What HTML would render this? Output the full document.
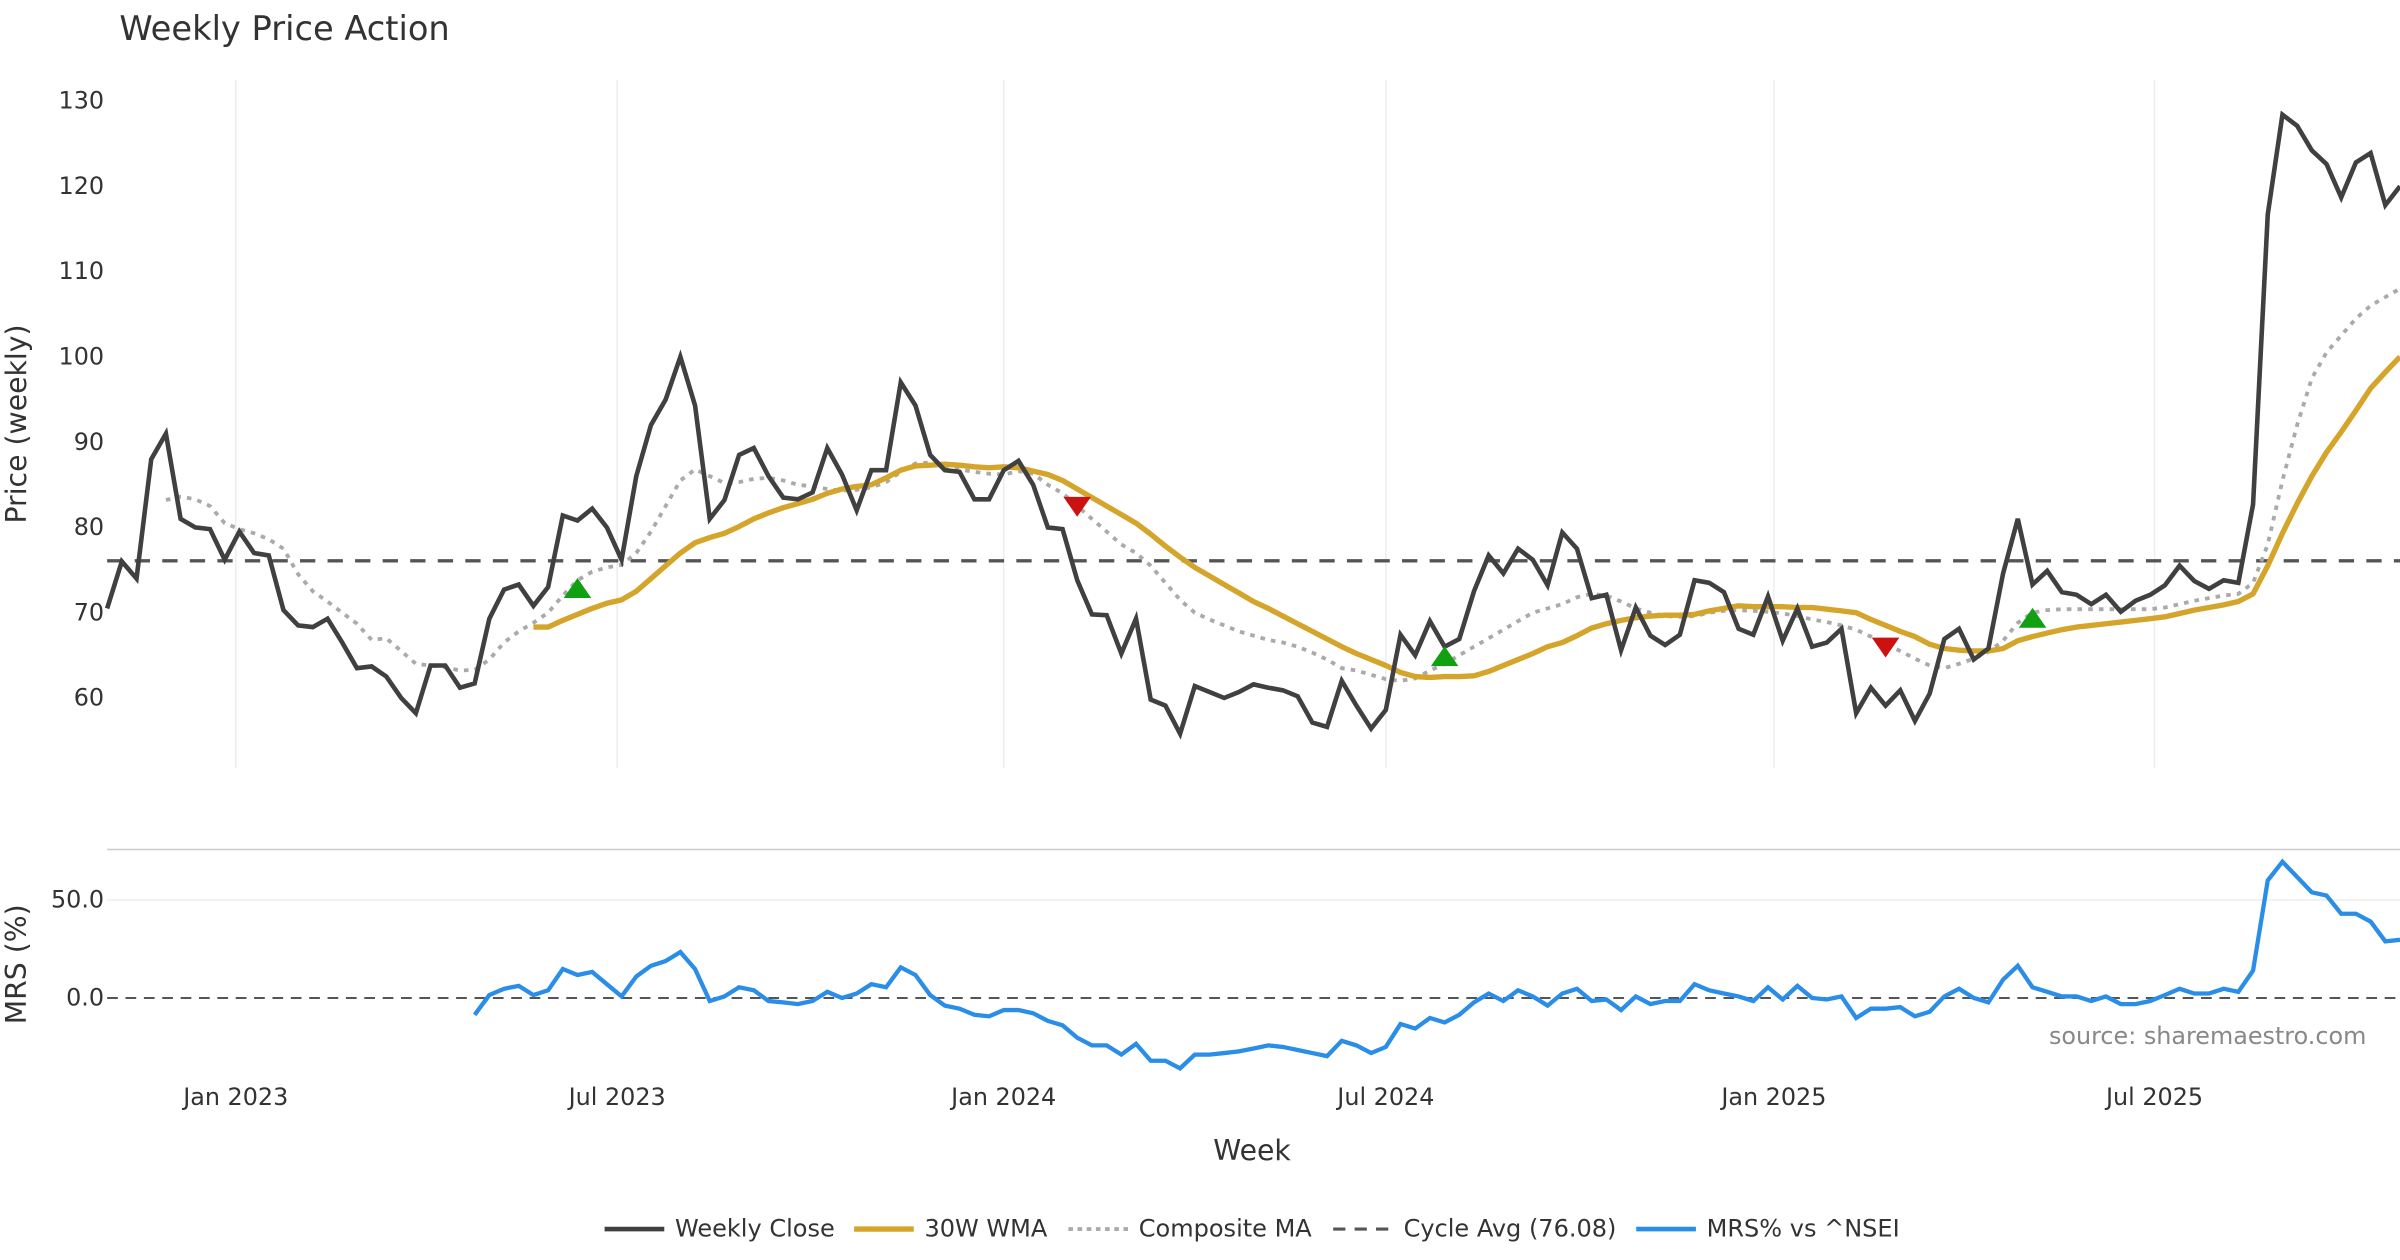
<!DOCTYPE html>
<html><head><meta charset="utf-8"><style>
html,body{margin:0;padding:0;background:#fff;}
svg{display:block;font-family:"DejaVu Sans","Liberation Sans",sans-serif;}
</style></head><body>
<svg id="chart" width="2400" height="1260" viewBox="0 0 1568 823.2" xmlns="http://www.w3.org/2000/svg">
<text x="78" y="26" font-size="22" fill="#333">Weekly Price Action</text>
<g id="grid"></g><g id="marks"></g><g id="axes"></g>
<text transform="translate(17,277) rotate(-90)" text-anchor="middle" font-size="18.5" fill="#333">Price (weekly)</text>
<text transform="translate(17,630) rotate(-90)" text-anchor="middle" font-size="18.5" fill="#333">MRS (%)</text>
<text x="818" y="758" text-anchor="middle" font-size="18.5" fill="#333">Week</text>
<text x="1546" y="682" text-anchor="end" font-size="15.6" fill="#888">source: sharemaestro.com</text>
<g font-size="15.7" fill="#333">
<line x1="395" y1="803" x2="434" y2="803" stroke="#404040" stroke-width="3"/><text x="441" y="808">Weekly Close</text>
<line x1="558" y1="803" x2="597" y2="803" stroke="#d4a52a" stroke-width="3.5"/><text x="604" y="808">30W WMA</text>
<line x1="698" y1="803" x2="737" y2="803" stroke="#aaa" stroke-width="2.5" stroke-dasharray="3,3"/><text x="744" y="808">Composite MA</text>
<line x1="871" y1="803" x2="910" y2="803" stroke="#555" stroke-width="2" stroke-dasharray="8,6"/><text x="917" y="808">Cycle Avg (76.08)</text>
<line x1="1069" y1="803" x2="1108" y2="803" stroke="#2a8de8" stroke-width="3"/><text x="1115" y="808">MRS% vs ^NSEI</text>
</g>
</svg>
<script>
const closeVals=[70.5,76,74,88,91,81,80,79.8,76.2,79.5,77,76.7,70.3,68.5,68.3,69.3,66.5,63.5,63.7,62.5,60,58.2,63.8,63.8,61.2,61.7,69.3,72.7,73.3,70.8,73,81.4,80.8,82.2,80,76.2,86,92,95,100,94.3,81,83.2,88.5,89.3,86,83.5,83.3,84.1,89.3,86.2,82,86.7,86.7,97,94.3,88.5,86.7,86.5,83.3,83.3,86.7,87.8,85,80,79.8,73.8,69.8,69.7,65.2,69.3,59.8,59.1,55.8,61.4,60.7,60,60.7,61.6,61.2,60.9,60.2,57.1,56.6,62,59.1,56.4,58.6,67.4,65,69,66,66.9,72.5,76.7,74.6,77.5,76.2,73.2,79.4,77.5,71.7,72.1,65.6,70.6,67.3,66.2,67.4,73.8,73.5,72.4,68.1,67.4,71.9,66.7,70.5,66,66.5,68.1,58.2,61.2,59.1,60.9,57.3,60.5,66.9,68.1,64.5,65.8,74.6,81,73.3,74.9,72.4,72.1,71,72.1,70.1,71.4,72.1,73.2,75.5,73.7,72.8,73.8,73.5,82.7,116.7,128.4,127.1,124.2,122.6,118.7,122.8,123.9,117.8,120];
const wmaStart=29;
const wmaVals=[68.3,68.3,69.1,69.8,70.5,71.1,71.5,72.5,74,75.5,77,78.2,78.8,79.3,80.1,81,81.7,82.3,82.8,83.3,84,84.5,84.8,85,85.8,86.7,87.2,87.3,87.4,87.3,87.1,87,87.1,87,86.6,86.2,85.5,84.5,83.5,82.5,81.5,80.5,79.2,77.8,76.5,75.3,74.3,73.3,72.3,71.3,70.5,69.6,68.7,67.8,66.9,66,65.2,64.5,63.8,63,62.5,62.4,62.5,62.5,62.6,63.1,63.8,64.5,65.2,66,66.5,67.3,68.2,68.7,69.1,69.4,69.6,69.7,69.7,69.8,70.2,70.5,70.8,70.7,70.7,70.7,70.6,70.6,70.4,70.2,70,69.2,68.5,67.8,67.2,66.3,65.8,65.6,65.5,65.5,65.8,66.7,67.2,67.6,68,68.3,68.5,68.7,68.9,69.1,69.3,69.5,69.9,70.3,70.6,70.9,71.3,72.2,75.5,79.3,82.8,86,88.8,91.2,93.7,96.3,98.2,100];
const compStart=4;
const compVals=[83.2,83.6,83.3,82.5,80.5,79.8,79.3,78.6,77.5,74.5,72.5,71.3,70,68.7,66.8,67,65.5,64,63.8,63.6,63.2,63.3,64.5,66.5,67.8,68.8,70,72,73.8,74.8,75.3,75.6,77,79.5,82.5,85.5,86.8,86,85.2,85.3,85.7,85.8,85.5,85,84.8,84.5,84.3,84.4,84.7,85.3,86.5,87.5,87.6,87.2,86.8,86.5,86.3,86.2,86.6,86.3,85,84,82.5,81,79.5,78,77,75.5,73.5,71.5,70,69.2,68.5,67.8,67.3,66.8,66.5,66,65.3,64.5,63.5,63.2,62.7,62.2,62,62.3,63.2,64,65,66,67,68,69,70,70.5,71,71.8,72.2,72,71.3,70.5,70,69.6,69.5,69.6,70,70.2,70.3,70.2,70.1,69.9,69.6,69.2,68.9,68.5,68,67.2,66.3,65.5,64.6,63.8,63.5,64,64.6,65.4,66.7,68.8,70,70.3,70.4,70.4,70.4,70.4,70.4,70.4,70.4,70.6,71,71.4,71.7,72,72.2,73.5,78,85.5,92,97.5,100.5,102.5,104.5,106,107,108];
const mrsStart=25;
const mrsVals=[-8.6,1.5,4.7,6.2,1.5,3.9,14.8,11.7,13.3,7,0.8,10.9,16.4,18.8,23.4,14.8,-1.6,0.8,5.5,3.9,-1.6,-2.3,-3.1,-1.6,3.1,0,2.3,7,5.5,15.6,11.7,1.5,-3.9,-5.5,-8.6,-9.4,-6.2,-6.2,-7.8,-11.7,-14,-20.3,-24.2,-24.2,-28.9,-23.4,-32,-32,-35.9,-28.9,-28.9,-28.1,-27.3,-25.8,-24.2,-25,-26.6,-28.1,-29.7,-21.9,-24.2,-28.1,-25,-13.3,-15.6,-10.2,-12.5,-8.6,-2.3,2.3,-1.6,3.9,0.8,-3.9,2.3,4.7,-1.6,-0.8,-6.2,0.8,-3.1,-1.6,-1.6,7,3.9,2.3,0.8,-1.6,5.5,-0.8,6.2,0,-0.8,0.8,-10.2,-5.5,-5.5,-4.7,-9.4,-7,0.8,4.7,0,-2.3,9.4,16.4,5.5,3.1,0.8,0.8,-1.6,0.8,-3.1,-3.1,-1.6,1.5,4.7,2.3,2.3,4.7,3.1,14,60,69.5,61.7,53.9,52.3,43,43,39,28.9,29.7];
const buyIdx=[32,91,131];
const buyVals=[72.8,64.8,69.3];
const sellIdx=[66,121];
const sellVals=[82.5,66];
const cycleAvg=76.08;
const priceTicks=[60,70,80,90,100,110,120,130];
const mrsTicks=[0,50];
const dateTickLabels=["Jan 2023","Jul 2023","Jan 2024","Jul 2024","Jan 2025","Jul 2025"];
const dateTickWeeks=[8.75,34.7,61,87,113.4,139.3];

const NS="http://www.w3.org/2000/svg";
const X0=70,X1=1568,N=closeVals.length;
const xs=i=>X0+i*(X1-X0)/(N-1);
const yp=v=>66+(130-v)*5.571;
const ym=v=>652-v*1.28;
const G=document.getElementById('grid'),M=document.getElementById('marks'),A=document.getElementById('axes');
function mk(tag,attrs,parent){const e=document.createElementNS(NS,tag);for(const k in attrs)e.setAttribute(k,attrs[k]);parent.appendChild(e);return e;}
function pathOf(vals,start,yf){let d='';vals.forEach((v,i)=>{d+=(i?'L':'M')+xs(start+i).toFixed(1)+','+yf(v).toFixed(1);});return d;}

dateTickWeeks.forEach((w,k)=>{
  const gl=mk('line',{x1:xs(w),x2:xs(w),y1:52,y2:502,stroke:'#eee','stroke-width':1},G);
  
  
  const t=mk('text',{x:xs(w),y:722,'text-anchor':'middle','font-size':15.6,fill:'#333'},A);
  t.textContent=dateTickLabels[k];
  
  
});
priceTicks.forEach(v=>{
  const t=mk('text',{x:68,y:yp(v)+5,'text-anchor':'end','font-size':15.6,fill:'#333'},A);
  t.textContent=v;
  
  
});
const sep=mk('line',{x1:X0,x2:X1,y1:555,y2:555,stroke:'#ccc','stroke-width':1},G);


mrsTicks.forEach(v=>{
  if(v!==0){const gl=mk('line',{x1:X0,x2:X1,y1:ym(v),y2:ym(v),stroke:'#eee','stroke-width':1},G);
  
  }
  const t=mk('text',{x:68,y:ym(v)+5,'text-anchor':'end','font-size':15.6,fill:'#333'},A);
  t.textContent=v.toFixed(1);
  
  
});
const z=mk('line',{x1:X0,x2:X1,y1:ym(0),y2:ym(0),stroke:'#555','stroke-width':1.3,'stroke-dasharray':'7,5'},M);


const ca=mk('line',{x1:X0,x2:X1,y1:yp(cycleAvg),y2:yp(cycleAvg),stroke:'#555','stroke-width':2.2,'stroke-dasharray':'10,8'},M);


const cm=mk('path',{d:pathOf(compVals,compStart,yp),fill:'none',stroke:'#aaa','stroke-width':2.5,'stroke-dasharray':'3,4'},M);


const wl=mk('path',{d:pathOf(wmaVals,wmaStart,yp),fill:'none',stroke:'#d4a52a','stroke-width':3.5,'stroke-linejoin':'round'},M);


const cl=mk('path',{d:pathOf(closeVals,0,yp),fill:'none',stroke:'#404040','stroke-width':3,'stroke-linejoin':'miter'},M);


const ml=mk('path',{d:pathOf(mrsVals,mrsStart,ym),fill:'none',stroke:'#2a8de8','stroke-width':2.8},M);


buyIdx.forEach((i,k)=>{const x=xs(i),y=yp(buyVals[k]);
  const p=mk('polygon',{points:`${x-9},${y+6} ${x+9},${y+6} ${x},${y-7}`,fill:'#11a011'},M);
  
  });
sellIdx.forEach((i,k)=>{const x=xs(i),y=yp(sellVals[k]);
  const p=mk('polygon',{points:`${x-9},${y-6} ${x+9},${y-6} ${x},${y+7}`,fill:'#cc1111'},M);
  
  });
</script>
</body></html>
